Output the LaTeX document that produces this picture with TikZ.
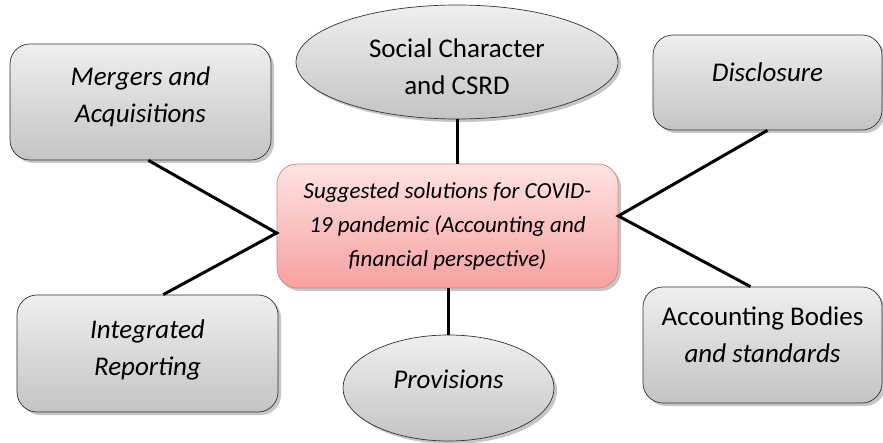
\documentclass[tikz,border=0pt]{standalone}
\usepackage{fontspec}
\setmainfont{Carlito}
\usetikzlibrary{shapes.geometric}
\usetikzlibrary{shadows}
\usetikzlibrary{calc}
\definecolor{boxtop}{HTML}{EFEFEF}
\definecolor{boxbot}{HTML}{C4C4C4}
\definecolor{soltop}{HTML}{FFE3E3}
\definecolor{solbot}{HTML}{F6A0A0}
\definecolor{solline}{HTML}{E07F7F}
\tikzset{box/.style={draw=black!80,line width=0.7pt,rounded corners=20pt,top color=boxtop,bottom color=boxbot,drop shadow={shadow xshift=3pt,shadow yshift=-3pt,opacity=0.45},align=center,font=\fontsize{27}{37}\selectfont\itshape},
oval/.style={box,ellipse,rounded corners=0pt},
solbox/.style={box,draw=solline,top color=soltop,bottom color=solbot,font=\fontsize{23}{34}\selectfont\itshape},
link/.style={line width=3pt}}

\begin{document}
\begin{tikzpicture}[x=1pt,y=-1pt]
\useasboundingbox (0,0) rectangle (883,443);
\node[box,minimum width=261pt,minimum height=116pt] (merg) at (140.5,102) {Mergers and\\Acquisitions\\[-23pt]};
\node[oval,minimum width=322pt,minimum height=114pt] (soc) at (457,62) {\upshape Social Character\\\upshape and CSRD\\[-47pt]};
\node[box,minimum width=229pt,minimum height=95pt] (disc) at (767.5,82.5) {Disclosure\\[-17pt]};
\node[solbox,minimum width=341pt,minimum height=124pt] (sol) at (447.5,226) {Suggested solutions for COVID-\\19 pandemic (Accounting and\\financial perspective)};
\node[box,minimum width=261pt,minimum height=117pt] (integ) at (147.5,353.5) {Integrated\\Reporting\\[-25pt]};
\node[oval,minimum width=211pt,minimum height=106pt] (prov) at (448.5,388) {Provisions\\[-19pt]};
\node[box,minimum width=239pt,minimum height=116pt] (acc) at (762.5,345) {\upshape Accounting Bodies\\and standards\\[-17pt]};
% connectors
\draw[link] ($(merg.south west)!0.53!(merg.south east)$) -- ([yshift=-7pt]sol.west) -- ($(integ.north west)!0.56!(integ.north east)$);
\draw[link] (disc.south) -- ([yshift=10pt]sol.east) -- ($(acc.north west)!0.45!(acc.north east)$);
\draw[link] (soc.south) -- (soc.south |- sol.north);
\draw[link] (prov.north) -- (prov.north |- sol.south);
\end{tikzpicture}
\end{document}
